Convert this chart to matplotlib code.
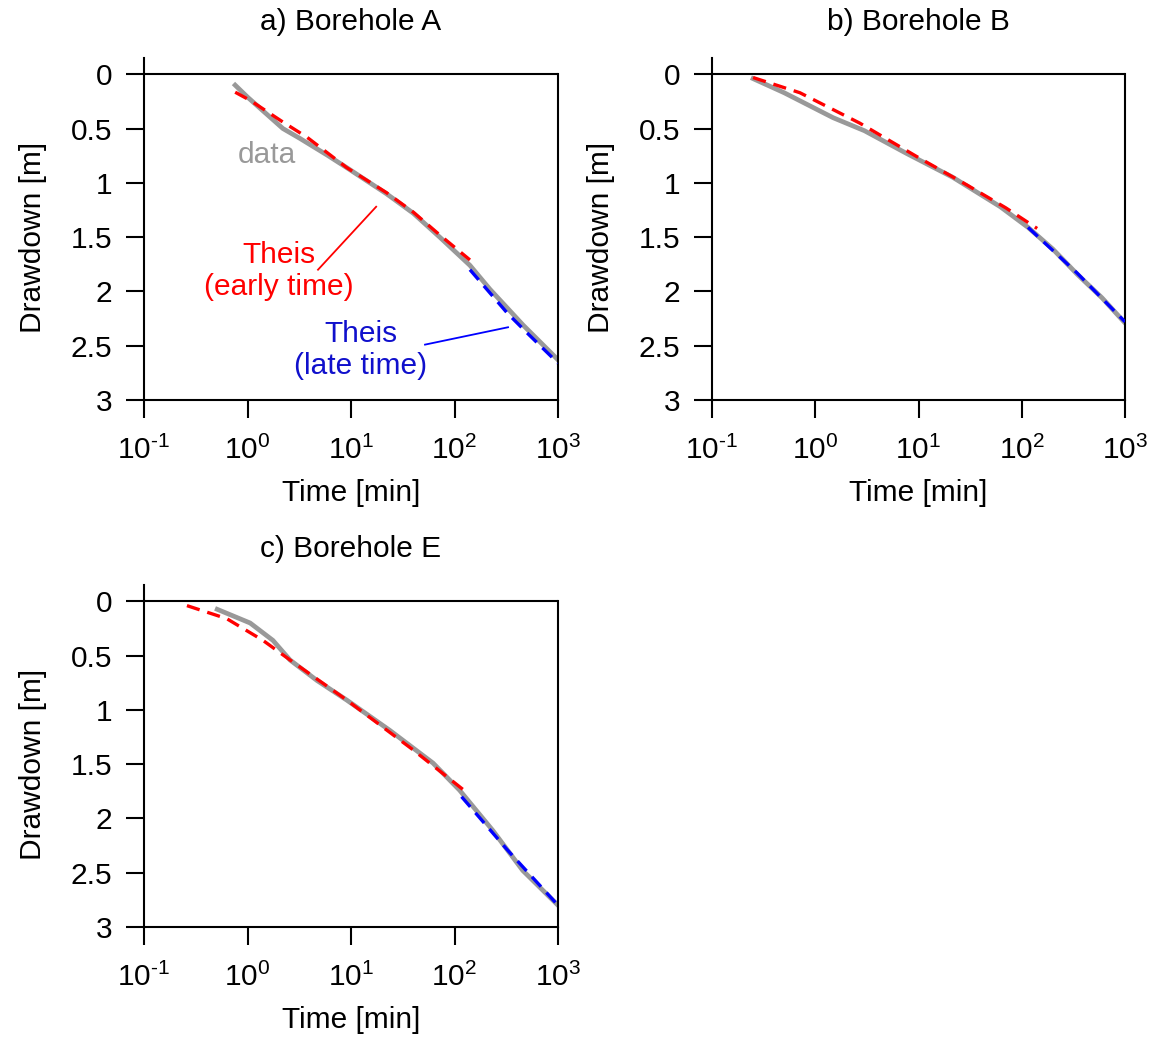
import numpy as np
import matplotlib
matplotlib.use('Agg')
import matplotlib.pyplot as plt

plt.rcParams['font.family'] = ['Liberation Sans', 'DejaVu Sans']
plt.rcParams['mathtext.fontset'] = 'custom'
plt.rcParams['mathtext.rm'] = 'Liberation Sans'
plt.rcParams['mathtext.it'] = 'Liberation Sans'
FS = 21.5

# Borehole A
a_t_data = [0.76, 1.0, 2.2, 3.2, 5.9, 9.1, 22, 40, 72, 141, 220, 460, 1000]
a_d_data = [0.10, 0.21, 0.50, 0.59, 0.745, 0.86, 1.10, 1.28, 1.50, 1.76, 1.98, 2.31, 2.63]
a_t_early = [0.76, 1.06, 2.2, 3.76, 9.1, 22, 40, 72, 141]
a_d_early = [0.165, 0.24, 0.44, 0.58, 0.86, 1.09, 1.27, 1.48, 1.71]
a_t_late = [141, 324, 500, 1000]
a_d_late = [1.80, 2.20, 2.38, 2.66]

# Borehole B
b_t_data = [0.25, 0.5, 1.49, 3, 7.7, 21.6, 62, 115, 200, 343, 600, 1000]
b_d_data = [0.04, 0.17, 0.40, 0.52, 0.73, 0.95, 1.22, 1.41, 1.61, 1.84, 2.06, 2.29]
b_t_early = [0.25, 0.71, 2.7, 9.7, 29.5, 70, 141]
b_d_early = [0.03, 0.17, 0.45, 0.76, 1.02, 1.23, 1.42]
b_t_late = [115, 343, 1000]
b_d_late = [1.41, 1.83, 2.28]

# Borehole E
c_t_data = [0.51, 1.06, 1.76, 2.57, 4.7, 9.1, 23.8, 62, 112, 234, 457, 1000]
c_d_data = [0.074, 0.20, 0.36, 0.54, 0.73, 0.91, 1.19, 1.49, 1.74, 2.11, 2.48, 2.80]
c_t_early = [0.26, 0.63, 1.41, 2.57, 9.1, 40, 135]
c_d_early = [0.04, 0.16, 0.36, 0.54, 0.91, 1.37, 1.77]
c_t_late = [117, 324, 1000]
c_d_late = [1.80, 2.29, 2.80]

titles = ['a) Borehole A', 'b) Borehole B', 'c) Borehole E']
xticks = [0.1, 1, 10, 100, 1000]
xticklabels = ['$10^{\\text{-}1}$', '$10^{0}$', '$10^{1}$', '$10^{2}$', '$10^{3}$']
yticks = [0, 0.5, 1, 1.5, 2, 2.5, 3]
yticklabels = ['0', '0.5', '1', '1.5', '2', '2.5', '3']

fig = plt.figure(figsize=(11.58, 10.48), dpi=100)
W, H = 1158, 1048
boxes = [(144, 58, 414, 342), (712, 58, 413, 342), (144, 585, 414, 342)]
panels = [
    (a_t_data, a_d_data, a_t_early, a_d_early, a_t_late, a_d_late),
    (b_t_data, b_d_data, b_t_early, b_d_early, b_t_late, b_d_late),
    (c_t_data, c_d_data, c_t_early, c_d_early, c_t_late, c_d_late),
]

axes = []
for (x0, y0, w, h), title, p in zip(boxes, titles, panels):
    ax = fig.add_axes([x0 / W, (H - y0 - h) / H, w / W, h / H])
    t_d, d_d, t_e, d_e, t_l, d_l = p
    ax.plot(t_d, d_d, color='#999999', lw=3.4, solid_joinstyle='round', zorder=2)
    ax.plot(t_e, d_e, color='red', lw=2.4, dashes=(4, 2.4), zorder=3)
    ax.plot(t_l, d_l, color='blue', lw=2.4, dashes=(4, 2.4), zorder=3)
    ax.set_xscale('log')
    ax.set_xlim(0.1, 1000)
    ax.set_ylim(3, -0.15)
    ax.axhline(0, color='black', lw=1.5, zorder=4)
    ax.spines['top'].set_visible(False)
    ax.spines['right'].set_bounds(0, 3)
    for s in ax.spines.values():
        s.set_linewidth(1.5)
    ax.set_xticks(xticks)
    ax.set_xticklabels(xticklabels)
    ax.minorticks_off()
    ax.set_yticks(yticks)
    ax.set_yticklabels(yticklabels)
    ax.tick_params(axis='both', direction='out', length=13, width=1.5, labelsize=FS)
    ax.tick_params(axis='x', pad=13)
    ax.tick_params(axis='y', pad=10)
    ax.set_xlabel('Time [min]', fontsize=FS)
    ax.set_ylabel('Drawdown [m]', fontsize=FS)
    ax.xaxis.set_label_coords(0.5, -0.23)
    ax.yaxis.set_label_coords(-0.235, (3 - 1.5) / 3.15)
    ax.text(0.5, 1.105, title, transform=ax.transAxes, ha='center', va='center', fontsize=FS)
    axes.append(ax)

# labels in panel a
ax = axes[0]
ax.text(1.54, 0.745, 'data', color='#999999', fontsize=FS, ha='center', va='center')
ax.text(2.0, 1.81, 'Theis\n(early time)', color='red', fontsize=FS, ha='center', va='center',
        linespacing=1.2)
ax.plot([4.8, 17.5], [1.80, 1.22], color='red', lw=1.3)
ax.text(12.5, 2.54, 'Theis\n(late time)', color='#1010cc', fontsize=FS, ha='center', va='center',
        linespacing=1.2)
ax.plot([51.9, 329], [2.49, 2.33], color='blue', lw=1.3)

fig.savefig('out.png', dpi=100)
